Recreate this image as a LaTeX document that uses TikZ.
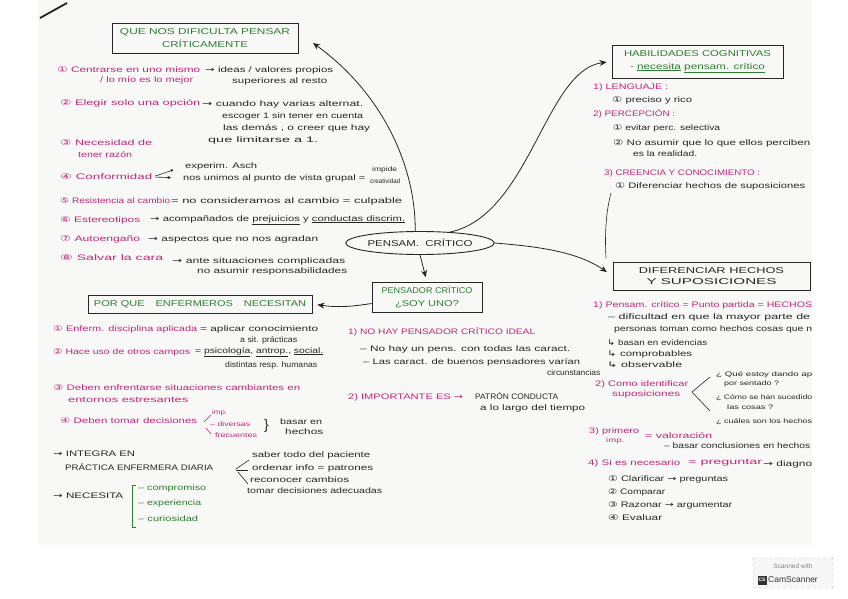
\documentclass[tikz,border=0pt]{standalone}
\usepackage{graphicx}
\usepackage{fontspec}
\setmainfont{Liberation Sans}
\newfontfamily\dv{DejaVu Sans}
\usetikzlibrary{arrows.meta,shapes.geometric}
\definecolor{pk}{HTML}{C0267A}
\definecolor{gn}{HTML}{2E7D32}
\definecolor{ink}{HTML}{262626}
\definecolor{paper}{HTML}{F8F8F6}
\newcommand{\W}[2]{\resizebox{#1pt}{\height}{#2}}
\newcommand{\ci}[1]{{\dv #1}}
\newcommand{\ra}{{\dv →}}
\newcommand{\hk}{{\dv ↳}}
\begin{document}
\begin{tikzpicture}[x=1pt,y=-1pt,
 t/.style={anchor=west,inner sep=0pt,text=ink,font=\fontsize{8}{9}\selectfont},
 p/.style={t,text=pk},
 g/.style={t,text=gn},
 sm/.style={font=\fontsize{6.5}{7}\selectfont},
 bx/.style={draw=ink,line width=0.9pt,inner sep=0pt,align=center,font=\fontsize{8.5}{13}\selectfont},
 arr/.style={-{Stealth[length=7pt,width=6pt]},line width=0.8pt,draw=ink},
 ln/.style={line width=0.6pt,draw=ink}]
\path[use as bounding box] (0,0) rectangle (848,599);
\fill[paper] (38,0) rectangle (812,545);
\draw[line width=1.8pt,ink] (40,18) -- (67,3);

% boxes
\node[bx,minimum width=186,minimum height=30,text=gn] (qbox) at (205,38) {\W{170}{QUE NOS DIFICULTA PENSAR}\\\W{86}{CRÍTICAMENTE}};
\node[bx,minimum width=171,minimum height=33,text=gn] (hab) at (697.5,61.5) {\W{147}{HABILIDADES COGNITIVAS}\\\W{135}{- \underline{necesita} \underline{pensam. crítico}}};
\node[bx,minimum width=197,minimum height=28,font=\fontsize{8.5}{11}\selectfont,text=ink] (dif) at (711.5,276) {\W{145}{DIFERENCIAR HECHOS}\\\W{130}{Y SUPOSICIONES}};
\node[bx,minimum width=110,minimum height=30,text=gn] (pen) at (427,297.5) {\W{91}{PENSADOR CRÍTICO}\\\W{64}{¿SOY UNO?}};
\node[bx,minimum width=224,minimum height=18,text=gn] (pq) at (200,304) {\W{212}{POR QUE\quad ENFERMEROS\quad NECESITAN}};
\node[draw=ink,ellipse,line width=0.9pt,minimum width=134,minimum height=23,inner sep=0pt,text=ink,font=\fontsize{8.5}{10}\selectfont] (pc) at (420,243) {\W{105}{PENSAM.\ \ CRÍTICO}};

% connectors
\coordinate (qa) at (313,43);
\draw[arr] (pc.112) .. controls (416,170) and (385,95) .. (qa);
\draw[arr,shorten >=5pt] (pc.20) .. controls (530,215) and (545,70) .. (hab.west);
\draw[arr,shorten >=7pt] (pc.east) .. controls (530,246) and (575,250) .. (dif.west);
\coordinate (va) at (611,193);
\coordinate (vb) at (606,258);
\draw[ln] (va) .. controls (605,215) and (605,240) .. (vb);
\draw[arr,shorten >=5pt] (pc.south) -- (pen.north);
\draw[arr,shorten >=5pt] ([yshift=-6pt]pen.west) .. controls (355,306) and (340,308) .. (pq.east);

% left list
\node[p] (l1a) at (57,70) {\W{143}{\ci{①} Centrarse en uno mismo}};
\node[t] (l1b) at (205,70) {\W{128}{\ra{} ideas / valores propios}};
\node[p] (l1c) at (100,80) {\W{93}{/ lo mío es lo mejor}};
\node[t] (l1d) at (232,81) {\W{95}{superiores al resto}};
\node[p] (l2a) at (60,103) {\W{140}{\ci{②} Elegir solo una opción}};
\node[t] (l2b) at (202,104) {\W{161}{\ra{} cuando hay varias alternat.}};
\node[t] (l2c) at (222,116) {\W{141}{escoger 1 sin tener en cuenta}};
\node[t] (l2d) at (223,128) {\W{147}{las demás , o creer que hay}};
\node[t] (l2e) at (208,140) {\W{110}{que limitarse a 1.}};
\node[p] (l3a) at (60,143) {\W{92}{\ci{③} Necesidad de}};
\node[p] (l3b) at (78,155) {\W{54}{tener razón}};
\node[p] (l4a) at (60,177) {\W{92}{\ci{④} Conformidad}};
\node[t] (l4b) at (185,166) {\W{72}{experim. Asch}};
\node[t] (l4c) at (183,178) {\W{182}{nos unimos al punto de vista grupal =}};
\draw[ln,-{Stealth[length=3pt,width=3pt]},shorten <=3pt,shorten >=12pt] (l4a.east) -- (l4b.west);
\draw[ln,-{Stealth[length=3pt,width=3pt]},shorten <=3pt,shorten >=12pt] (l4a.east) -- (l4c.west);
\node[t,sm] (l4d) at (372,170) {\W{25}{impide}};
\node[t,sm] (l4e) at (370,181) {\W{30}{creatividad}};
\node[p] (l5a) at (60,201) {\W{110}{\ci{⑤} Resistencia al cambio}};
\node[t] (l5b) at (171,201) {\W{231}{= no consideramos al cambio = culpable}};
\node[p] (l6a) at (60,220) {\W{80}{\ci{⑥} Estereotipos}};
\node[t] (l6b) at (150,220) {\W{255}{\ra{} acompañados de \underline{prejuicios} y \underline{conductas discrim.}}};
\node[p] (l7a) at (60,239) {\W{80}{\ci{⑦} Autoengaño}};
\node[t] (l7b) at (148,239) {\W{170}{\ra{} aspectos que no nos agradan}};
\node[p] (l8a) at (60,258) {\W{103}{\ci{⑧} Salvar la cara}};
\node[t] (l8b) at (172,261) {\W{173}{\ra{} ante situaciones complicadas}};
\node[t] (l8c) at (197,271) {\W{150}{no asumir responsabilidades}};

% lower left
\node[p] (e1a) at (53,329) {\W{144}{\ci{①} Enferm. disciplina aplicada}};
\node[t] (e1b) at (200,329) {\W{118}{= aplicar conocimiento}};
\node[t] (e1c) at (240,340) {\W{57}{a sit. prácticas}};
\node[p] (e2a) at (53,352) {\W{137}{\ci{②} Hace uso de otros campos}};
\node[t] (e2b) at (195,352) {\W{128}{= \underline{psicología}, \underline{antrop.}, \underline{social.}}};
\node[t] (e2c) at (225,365) {\W{92}{distintas resp. humanas}};
\node[p] (e3a) at (53,388) {\W{247}{\ci{③} Deben enfrentarse situaciones cambiantes en}};
\node[p] (e3b) at (68,400) {\W{120}{entornos estresantes}};
\node[p] (e4a) at (60,421) {\W{137}{\ci{④} Deben tomar decisiones}};
\node[p,sm] (e4b) at (212,413) {\W{15}{imp.}};
\node[p,sm] (e4c) at (210,424) {\W{40}{– diversas}};
\node[p,sm] (e4d) at (215,435) {\W{42}{frecuentes}};
\draw[ln,pk] (204,422) -- (211,415);
\draw[ln,pk] (206,428) -- (211,434);
\node[t,font=\fontsize{14}{14}\selectfont] (e4br) at (264,426) {\}};
\node[t] (e4e) at (280,422) {\W{42}{basar en}};
\node[t] (e4f) at (285,432) {\W{38}{hechos}};
\node[t] (i1) at (53,454) {\W{82}{\ra{} INTEGRA EN}};
\node[t] (i2) at (65,467) {\W{148}{PRÁCTICA ENFERMERA DIARIA}};
\draw[ln] (236,469) -- (249,460);
\draw[ln] (236,470) -- (248,470);
\draw[ln] (238,472) -- (248,484);
\node[t] (i3) at (252,455) {\W{118}{saber todo del paciente}};
\node[t] (i4) at (252,468) {\W{121}{ordenar info = patrones}};
\node[t] (i5) at (250,480) {\W{99}{reconocer cambios}};
\node[t] (i6) at (247,491) {\W{135}{tomar decisiones adecuadas}};
\node[t] (n1) at (53,496) {\W{70}{\ra{} NECESITA}};
\draw[gn,line width=0.9pt] (136,485) -- (132,485) -- (132,527) -- (136,527);
\node[g] (n2) at (138,488) {\W{68}{– compromiso}};
\node[g] (n3) at (138,503) {\W{63}{– experiencia}};
\node[g] (n4) at (138,519) {\W{60}{– curiosidad}};

% middle
\node[p] (m1) at (348,332) {\W{187}{1) NO HAY PENSADOR CRÍTICO IDEAL}};
\node[t] (m2) at (360,349) {\W{210}{– No hay un pens. con todas las caract.}};
\node[t] (m3) at (363,362) {\W{217}{– Las caract. de buenos pensadores varían}};
\node[t] (m4) at (547,373) {\W{53}{circunstancias}};
\node[p] (m5) at (348,397) {\W{115}{2) IMPORTANTE ES \ra}};
\node[t] (m6) at (475,396) {\W{83}{PATRÓN CONDUCTA}};
\node[t] (m7) at (480,408) {\W{105}{a lo largo del tiempo}};

% right top
\node[p] (r1) at (593,87) {\W{75}{1) LENGUAJE :}};
\node[t] (r1a) at (612,100) {\W{80}{\ci{①} preciso y rico}};
\node[p] (r2) at (593,114) {\W{82}{2) PERCEPCIÓN :}};
\node[t] (r2a) at (613,128) {\W{107}{\ci{①} evitar perc. selectiva}};
\node[t] (r2b) at (613,143) {\W{197}{\ci{②} No asumir que lo que ellos perciben}};
\node[t] (r2c) at (633,154) {\W{64}{es la realidad.}};
\node[p] (r3) at (604,173) {\W{156}{3) CREENCIA Y CONOCIMIENTO :}};
\node[t] (r3a) at (615,186) {\W{190}{\ci{①} Diferenciar hechos de suposiciones}};

% right bottom
\node[p] (d1) at (593,305) {\W{219}{1) Pensam. crítico = Punto partida = HECHOS}};
\node[t] (d2) at (608,317) {\W{202}{– dificultad en que la mayor parte de}};
\node[t] (d3) at (614,329) {\W{198}{personas toman como hechos cosas que n}};
\node[t] (d4) at (607,343) {\W{100}{\hk{} basan en evidencias}};
\node[t] (d5) at (607,354) {\W{85}{\hk{} comprobables}};
\node[t] (d6) at (607,365) {\W{75}{\hk{} observable}};
\node[p] (d7) at (595,384) {\W{93}{2) Como identificar}};
\node[p] (d8) at (612,394) {\W{68}{suposiciones}};
\draw[ln] (710,377) -- (692,392) -- (710,411);
\node[t,sm] (d9) at (716,375) {\W{96}{¿ Qué estoy dando ap}};
\node[t,sm] (d10) at (724,384) {\W{55}{por sentado ?}};
\node[t,sm] (d11) at (716,398) {\W{96}{¿ Cómo se han sucedido}};
\node[t,sm] (d12) at (727,407) {\W{46}{las cosas ?}};
\node[t,sm] (d13) at (716,422) {\W{96}{¿ cuáles son los hechos}};
\node[p] (d14) at (589,431) {\W{50}{3) primero}};
\node[p,sm] (d15) at (606,441) {\W{18}{imp.}};
\node[p] (d16) at (645,436) {\W{67}{= valoración}};
\node[t] (d17) at (664,446) {\W{146}{– basar conclusiones en hechos}};
\node[p] (d18) at (588,463) {\W{92}{4) Si es necesario}};
\node[p] (d19) at (688,463) {\W{74}{= preguntar}};
\node[t] (d20) at (763,464) {\W{49}{\ra{} diagno}};
\node[t] (d21) at (608,479) {\W{120}{\ci{①} Clarificar \ra{} preguntas}};
\node[t] (d22) at (608,492) {\W{57}{\ci{②} Comparar}};
\node[t] (d23) at (608,505) {\W{124}{\ci{③} Razonar \ra{} argumentar}};
\node[t] (d24) at (608,518) {\W{54}{\ci{④} Evaluar}};

% CamScanner badge
\node[draw=gray!60,dashed,fill=gray!6,rounded corners=1pt,minimum width=80,minimum height=30] (cs) at (793,573) {};
\node[font=\fontsize{6.5}{7}\selectfont,text=gray,inner sep=0pt] (cs1) at (793,566) {Scanned with};
\node[fill=black!80,text=white,font=\bfseries\fontsize{5}{5}\selectfont,inner sep=1pt,minimum size=9] (cs2) at (762,580) {CS};
\node[anchor=west,font=\fontsize{8.5}{9}\selectfont,inner sep=0pt,text=black!80] (cs3) at (768,580) {CamScanner};
\end{tikzpicture}
\end{document}
